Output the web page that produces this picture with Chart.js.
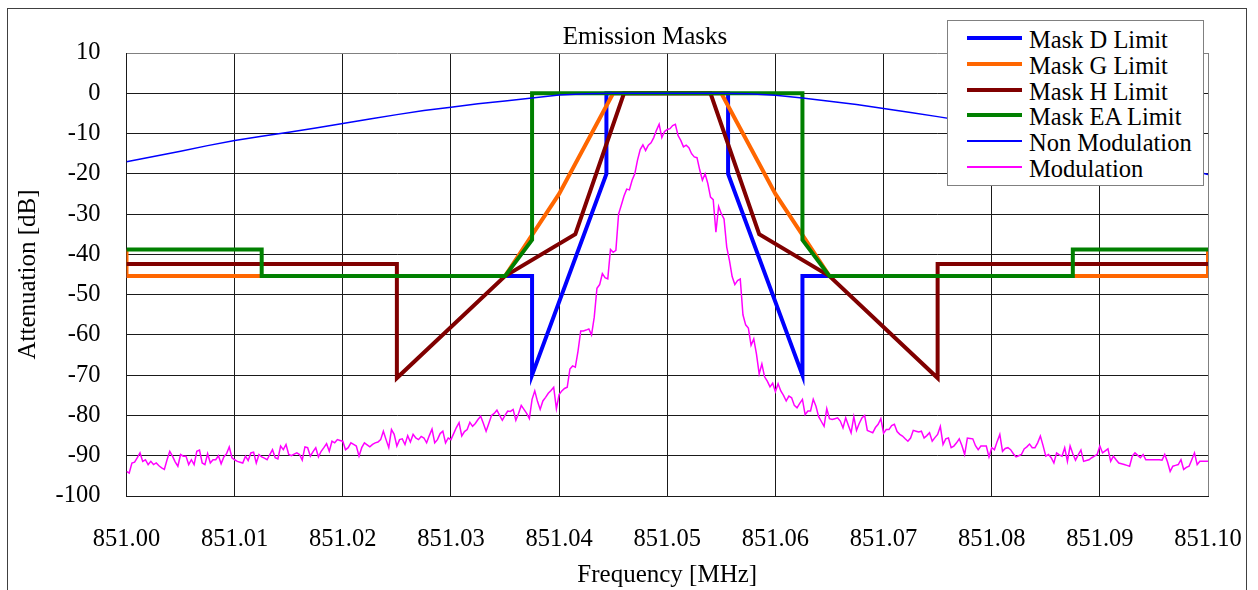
<!DOCTYPE html>
<html>
<head>
<meta charset="utf-8">
<script src="https://cdn.jsdelivr.net/npm/chart.js@4/dist/chart.umd.min.js"></script>
<style>
  body { margin: 0; background: #fff; }
  #wrap { position: relative; width: 1258px; height: 590px; overflow: hidden; background: #fff; }
  #frame { position: absolute; left: 7px; top: 8px; width: 1240px; height: 640px; border: 1px solid #404040; box-sizing: border-box; }
  #c { position: absolute; left: 0; top: 0; }
  #title { position: absolute; left: 645px; top: 23px; transform: translateX(-50%); font: 25px/25px "Liberation Serif", "Times New Roman", serif; color: #000; white-space: nowrap; }
  #legend { position: absolute; left: 947px; top: 20px; width: 257px; height: 166px; border: 1px solid #808080; box-sizing: border-box; background: #fff; }
  .sw { position: absolute; left: 19px; width: 55px; }
  .lt { position: absolute; left: 81px; font: 24.5px/25px "Liberation Serif", "Times New Roman", serif; color: #000; white-space: nowrap; }
</style>
</head>
<body>
<div id="wrap">
  <div id="frame"></div>
  <canvas id="c" width="1258" height="590"></canvas>
  <div id="title">Emission Masks</div>
  <div id="legend"></div>
</div>
<script>
// ---- tick labels ----
const X_TICKS = [851.00, 851.01, 851.02, 851.03, 851.04, 851.05, 851.06, 851.07, 851.08, 851.09, 851.10];
const X_TICK_LABELS = ["851.00", "851.01", "851.02", "851.03", "851.04", "851.05", "851.06", "851.07", "851.08", "851.09", "851.10"];
const Y_TICKS = [-100, -90, -80, -70, -60, -50, -40, -30, -20, -10, 0, 10];

// ---- series labels ----
const SERIES_LABELS = ["Mask D Limit", "Mask G Limit", "Mask H Limit", "Mask EA Limit", "Non Modulation", "Modulation"];

// ---- Mask D ----
const MASK_D_FREQ = [851.0000, 851.0375, 851.0375, 851.044375, 851.044375, 851.055625, 851.055625, 851.0625, 851.0625, 851.1000];
const MASK_D_DB   = [-45.4, -45.4, -70, -20, 0, 0, -20, -70, -45.4, -45.4];

// ---- Mask G ----
const MASK_G_FREQ = [851.000, 851.000, 851.035, 851.040, 851.045, 851.055, 851.060, 851.065, 851.100, 851.100];
const MASK_G_DB   = [-38.8, -45.4, -45.4, -25, 0, 0, -25, -45.4, -45.4, -38.8];

// ---- Mask H ----
const MASK_H_FREQ = [851.000, 851.025, 851.025, 851.035, 851.0415, 851.046, 851.054, 851.0585, 851.065, 851.075, 851.075, 851.100];
const MASK_H_DB   = [-42.4, -42.4, -70.7, -45.4, -35, 0, 0, -35, -45.4, -70.7, -42.4, -42.4];

// ---- Mask EA ----
const MASK_EA_FREQ = [851.000, 851.0125, 851.0125, 851.035, 851.0375, 851.0375, 851.0625, 851.0625, 851.065, 851.0875, 851.0875, 851.100];
const MASK_EA_DB   = [-38.8, -38.8, -45.4, -45.4, -36.4, 0, 0, -36.4, -45.4, -45.4, -38.8, -38.8];

// ---- Non Modulation ----
const NONMOD_FREQ = [851.0000, 851.0025, 851.0050, 851.0075, 851.0100, 851.0125, 851.0150, 851.0175, 851.0200, 851.0225,
                     851.0250, 851.0275, 851.0300, 851.0325, 851.0350, 851.0375, 851.0400, 851.0425, 851.0450, 851.0475,
                     851.0500, 851.0525, 851.0550, 851.0575, 851.0600, 851.0625, 851.0650, 851.0675, 851.0700, 851.0725,
                     851.0750, 851.0775, 851.0800, 851.0825, 851.0850, 851.0875, 851.0900, 851.0925, 851.0950, 851.0975,
                     851.1000];
const NONMOD_DB = [-17.0, -15.7, -14.4, -13.0, -11.7, -10.7, -9.7, -8.6, -7.5, -6.4,
                   -5.3, -4.3, -3.5, -2.6, -1.9, -1.2, -0.4, -0.1, 0, 0,
                   0, 0, 0, -0.1, -0.5, -1.2, -2.0, -2.8, -3.8, -4.8,
                   -5.8, -6.9, -8.1, -9.4, -10.8, -12.3, -13.8, -15.3, -16.9, -18.5,
                   -20.2];

// ---- Modulation (evenly spaced from MOD_FREQ_START to MOD_FREQ_END) ----
const MOD_FREQ_START = 851.00;
const MOD_FREQ_END = 851.10;
const MOD_DB = [
  -93.9, -94.3, -91.8, -91.6, -90.5, -89.3, -91.4, -91.0, -92.2, -91.4,
  -92.2, -91.8, -92.5, -93.0, -93.4, -91.0, -88.9, -90.1, -91.5, -92.6,
  -89.7, -90.1, -90.1, -92.2, -91.0, -92.2, -88.9, -88.6, -91.8, -92.2,
  -89.5, -91.8, -91.0, -91.0, -90.0, -92.0, -90.3, -89.5, -87.8, -90.5,
  -91.0, -91.4, -91.6, -91.8, -90.1, -91.2, -89.3, -89.1, -91.8, -89.7,
  -90.3, -90.6, -91.0, -89.7, -88.5, -90.5, -90.8, -87.6, -88.5, -87.2,
  -89.7, -90.0, -89.6, -89.3, -89.7, -91.1, -87.8, -88.0, -90.1, -89.0,
  -88.0, -90.3, -88.9, -88.0, -87.0, -88.9, -86.4, -86.8, -86.0, -86.2,
  -86.4, -88.5, -88.0, -86.8, -87.2, -87.6, -90.1, -88.0, -86.8, -87.3,
  -87.8, -87.2, -86.8, -86.6, -86.0, -83.9, -86.0, -88.0, -83.5, -84.7,
  -87.6, -86.0, -85.8, -87.2, -85.0, -86.6, -84.7, -85.6, -86.0, -85.2,
  -85.6, -86.8, -85.0, -83.4, -86.8, -86.0, -84.5, -83.9, -86.8, -85.6,
  -86.0, -84.5, -83.0, -81.8, -85.1, -84.0, -83.5, -81.7, -82.7, -82.0,
  -81.0, -80.2, -82.0, -83.9, -82.0, -80.0, -79.5, -78.7, -80.0, -81.2,
  -80.0, -78.9, -79.0, -78.5, -81.2, -79.5, -77.5, -78.5, -79.5, -80.8,
  -76.0, -73.9, -76.5, -78.5, -76.4, -75.5, -74.5, -73.8, -73.0, -78.3,
  -74.8, -73.9, -73.3, -73.0, -68.5, -67.7, -68.0, -64.0, -59.0, -59.0,
  -58.8, -58.5, -60.0, -55.6, -48.4, -47.5, -44.8, -45.8, -46.1, -38.8,
  -39.5, -39.0, -30.0, -27.8, -25.5, -23.8, -24.0, -21.6, -20.0, -16.6,
  -14.0, -12.8, -14.2, -12.9, -12.3, -11.0, -9.2, -7.7, -11.0, -9.5,
  -9.0, -8.8, -8.0, -7.7, -10.5, -11.7, -13.3, -12.9, -13.5, -15.0,
  -15.8, -16.0, -19.0, -21.6, -20.0, -22.4, -25.8, -26.4, -34.5, -28.1,
  -29.9, -31.2, -38.2, -41.5, -45.5, -47.5, -46.5, -46.1, -55.0, -57.5,
  -58.3, -62.6, -61.0, -64.8, -69.7, -67.2, -70.4, -71.5, -72.9, -72.0,
  -74.1, -72.1, -73.9, -75.0, -76.4, -75.2, -75.6, -77.5, -78.1, -77.0,
  -76.0, -79.8, -78.9, -78.9, -76.0, -77.7, -80.3, -81.5, -82.7, -78.3,
  -80.8, -81.0, -80.8, -80.6, -81.4, -83.1, -80.6, -82.5, -84.3, -80.3,
  -83.7, -82.0, -80.6, -80.0, -83.7, -84.0, -84.3, -83.0, -82.2, -80.8,
  -84.4, -83.5, -83.5, -82.5, -82.2, -84.0, -84.7, -85.1, -85.8, -86.4,
  -85.6, -83.7, -83.9, -84.1, -83.9, -85.6, -85.0, -84.3, -86.4, -85.5,
  -84.7, -82.7, -87.2, -85.8, -85.6, -88.0, -87.6, -86.8, -85.8, -87.5,
  -89.7, -85.6, -85.7, -85.8, -87.5, -88.5, -87.6, -87.6, -87.6, -90.3,
  -88.0, -88.5, -86.5, -84.7, -88.9, -88.2, -88.0, -88.5, -89.5, -90.3,
  -90.0, -89.7, -88.3, -87.8, -87.1, -88.0, -88.0, -86.8, -85.1, -87.5,
  -90.1, -89.7, -90.5, -91.8, -89.3, -89.8, -90.1, -88.0, -91.4, -87.6,
  -89.5, -91.1, -89.8, -88.6, -91.4, -91.2, -91.0, -90.5, -90.1, -89.7,
  -87.6, -89.3, -88.8, -88.3, -91.4, -90.1, -91.0, -91.8, -92.0, -92.2,
  -92.4, -92.6, -90.1, -89.3, -89.9, -90.5, -89.7, -91.0, -91.0, -91.0,
  -91.0, -91.0, -91.0, -91.1, -89.7, -91.5, -93.9, -92.6, -92.4, -92.2,
  -91.0, -93.4, -92.9, -92.6, -91.0, -89.3, -92.2, -91.4, -91.4, -91.4,
  -91.4
];

// ---- styles ----
const COLORS = ["#0000FF", "#FF6600", "#800000", "#008000", "#0000FF", "#FF00FF"];
const WIDTHS = [4, 4, 4, 4, 1.5, 1.5];
const LEGEND_WIDTHS = [4, 4, 4, 4, 2, 2];

function pts(xs, ys) { return xs.map((x, i) => ({ x: x, y: ys[i] })); }
const modStep = (MOD_FREQ_END - MOD_FREQ_START) / (MOD_DB.length - 1);
const modPts = MOD_DB.map((v, i) => ({ x: MOD_FREQ_START + i * modStep, y: v }));

const seriesData = [
  pts(MASK_D_FREQ, MASK_D_DB),
  pts(MASK_G_FREQ, MASK_G_DB),
  pts(MASK_H_FREQ, MASK_H_DB),
  pts(MASK_EA_FREQ, MASK_EA_DB),
  pts(NONMOD_FREQ, NONMOD_DB),
  modPts
];

const datasets = seriesData.map((d, i) => ({
  label: SERIES_LABELS[i],
  data: d,
  borderColor: COLORS[i],
  backgroundColor: COLORS[i],
  borderWidth: WIDTHS[i],
  pointRadius: 0,
  tension: 0,
  fill: false,
  order: SERIES_LABELS.length - i,
  borderJoinStyle: 'miter',
  borderCapStyle: 'butt'
}));

Chart.defaults.font.family = '"Liberation Serif", "Times New Roman", serif';
Chart.defaults.color = '#000';

const FONT = { family: '"Liberation Serif", "Times New Roman", serif', size: 24.5 };

new Chart(document.getElementById('c'), {
  type: 'line',
  data: { datasets: datasets },
  options: {
    responsive: false,
    animation: false,
    devicePixelRatio: 1,
    layout: { padding: { left: 13, right: 50, top: 53, bottom: 0 } },
    plugins: { legend: { display: false }, title: { display: false }, tooltip: { enabled: false } },
    scales: {
      x: {
        type: 'linear',
        min: 851.00,
        max: 851.10,
        afterBuildTicks: s => { s.ticks = X_TICKS.map(v => ({ value: v })); },
        afterFit: s => { s.height = 94; s.paddingLeft = 0; s.paddingRight = 0; },
        ticks: {
          font: FONT,
          padding: 29,
          maxRotation: 0,
          autoSkip: false,
          callback: (v, i) => X_TICK_LABELS[i]
        },
        grid: {
          drawTicks: false,
          lineWidth: 1,
          color: ctx => (ctx.index === X_TICKS.length - 1 ? '#808080' : '#1a1a1a')
        },
        border: { display: true, color: '#1a1a1a', width: 1 },
        title: {
          display: true,
          text: 'Frequency [MHz]',
          font: { family: FONT.family, size: 25 },
          padding: { top: 0, bottom: 0 }
        }
      },
      y: {
        type: 'linear',
        min: -100,
        max: 10,
        afterBuildTicks: s => { s.ticks = Y_TICKS.map(v => ({ value: v })); },
        afterFit: s => { s.width = 113.5; },
        ticks: {
          font: FONT,
          padding: 26,
          autoSkip: false,
          callback: v => String(v)
        },
        grid: {
          drawTicks: false,
          lineWidth: 1,
          color: ctx => (ctx.index === Y_TICKS.length - 1 ? '#808080' : '#1a1a1a')
        },
        border: { display: true, color: '#1a1a1a', width: 1 },
        title: {
          display: true,
          text: 'Attenuation [dB]',
          font: { family: FONT.family, size: 25 },
          padding: { top: 0, bottom: 0 }
        }
      }
    }
  }
});

// ---- legend (HTML) ----
const legend = document.getElementById('legend');
SERIES_LABELS.forEach((lab, i) => {
  const cy = 17.3 + 25.7 * i;
  const sw = document.createElement('div');
  sw.className = 'sw';
  sw.style.top = (cy - LEGEND_WIDTHS[i] / 2) + 'px';
  sw.style.height = LEGEND_WIDTHS[i] + 'px';
  sw.style.background = COLORS[i];
  legend.appendChild(sw);
  const t = document.createElement('div');
  t.className = 'lt';
  t.style.top = (cy - 11.2) + 'px';
  t.textContent = lab;
  legend.appendChild(t);
});
</script>
</body>
</html>
